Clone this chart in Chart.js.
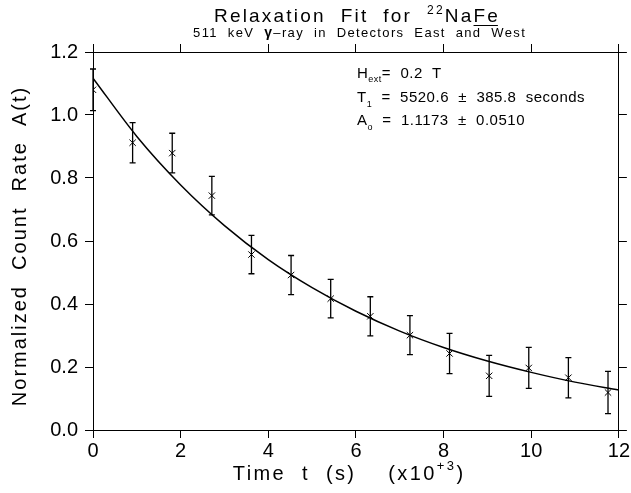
<!DOCTYPE html>
<html>
<head>
<meta charset="utf-8">
<script src="https://cdn.jsdelivr.net/npm/chart.js@4"></script>
<style>
  html, body { margin: 0; padding: 0; background: #fff; }
  #wrap { width: 631px; height: 493px; }
</style>
</head>
<body>
<div id="wrap"><canvas id="relaxChart"></canvas></div>
<script>
// measured points (time in seconds)
const times = [0, 904, 1808, 2712, 3616, 4520, 5424, 6328, 7232, 8136, 9040, 9944, 10848, 11752];
const counts = [1.080, 0.912, 0.879, 0.744, 0.557, 0.492, 0.417, 0.361, 0.301, 0.243, 0.172, 0.197, 0.166, 0.119];
const errors = [0.066, 0.064, 0.063, 0.061, 0.061, 0.062, 0.061, 0.062, 0.062, 0.064, 0.065, 0.065, 0.064, 0.067];

// fitted curve
const fitTimes = [0, 1000, 2000, 3000, 4000, 5000, 6000, 7000, 8000, 9000, 10000, 11000, 12000];
const fitValues = [1.117, 0.932, 0.778, 0.649, 0.541, 0.452, 0.377, 0.314, 0.262, 0.219, 0.183, 0.152, 0.127];

const xTicks = [0, 2, 4, 6, 8, 10, 12];
const yTicks = [0.0, 0.2, 0.4, 0.6, 0.8, 1.0, 1.2];

const FONT = "'Liberation Sans', Arial, sans-serif";

// draw a row of text pieces (sizes, sub/superscripts, underline, letter spacing)
function drawPieces(ctx, pieces, x, y, align, ls) {
  ls = ls || 0;
  let total = 0;
  pieces.forEach((p) => {
    ctx.font = (p.bold ? "bold " : "") + p.size + "px " + FONT;
    ctx.letterSpacing = "0px";
    p.w = ctx.measureText(p.text).width + ls * p.text.length;
    total += p.w;
  });
  total -= ls;
  let cx = align === "center" ? x - total / 2 : x;
  pieces.forEach((p) => {
    ctx.font = (p.bold ? "bold " : "") + p.size + "px " + FONT;
    ctx.letterSpacing = ls + "px";
    ctx.fillText(p.text, cx, y + (p.dy || 0));
    if (p.underline) {
      ctx.beginPath();
      ctx.moveTo(cx, y + 3.5);
      ctx.lineTo(cx + p.w - ls, y + 3.5);
      ctx.stroke();
    }
    cx += p.w;
  });
  ctx.letterSpacing = "0px";
}

const errorBars = {
  id: "errorBars",
  afterDatasetsDraw(chart) {
    const ctx = chart.ctx;
    const xs = chart.scales.x;
    const ys = chart.scales.y;
    ctx.save();
    ctx.strokeStyle = "#000";
    ctx.lineWidth = 1.3;
    times.forEach((t, i) => {
      const px = xs.getPixelForValue(t);
      const top = ys.getPixelForValue(counts[i] + errors[i]);
      const bot = ys.getPixelForValue(counts[i] - errors[i]);
      ctx.beginPath();
      ctx.moveTo(px, top);
      ctx.lineTo(px, bot);
      ctx.moveTo(px - 3, top);
      ctx.lineTo(px + 3, top);
      ctx.moveTo(px - 3, bot);
      ctx.lineTo(px + 3, bot);
      ctx.stroke();
    });
    ctx.restore();
  },
};

const labels = {
  id: "labels",
  afterDraw(chart) {
    const ctx = chart.ctx;
    const area = chart.chartArea;
    const mid = (area.left + area.right) / 2;
    ctx.save();
    ctx.fillStyle = "#000";
    ctx.strokeStyle = "#000";
    ctx.lineWidth = 1;
    ctx.textBaseline = "alphabetic";
    ctx.textAlign = "left";

    drawPieces(ctx, [
      { text: "Relaxation  Fit  for  ", size: 19 },
      { text: "22", size: 12, dy: -8 },
      { text: "Na", size: 19 },
      { text: "Fe", size: 19, underline: true },
    ], mid, 22, "center", 2.2);

    drawPieces(ctx, [
      { text: "511  keV  ", size: 13 },
      { text: "γ", size: 14, bold: true },
      { text: "\u2013ray  in  Detectors  East  and  West", size: 13 },
    ], mid + 3, 37, "center", 1.35);

    // fit parameters
    drawPieces(ctx, [
      { text: "H", size: 15 },
      { text: "ext", size: 9, dy: 4 },
      { text: "=  0.2  T", size: 15 },
    ], 357, 78, "left", 0.5);
    drawPieces(ctx, [
      { text: "T", size: 15 },
      { text: "1", size: 9, dy: 5 },
      { text: "  =  5520.6  \u00b1  385.8  seconds", size: 15 },
    ], 357, 102, "left", 0.5);
    drawPieces(ctx, [
      { text: "A", size: 15 },
      { text: "o", size: 9, dy: 5 },
      { text: "  =  1.1173  \u00b1  0.0510", size: 15 },
    ], 357, 125, "left", 0.5);

    // x axis title
    drawPieces(ctx, [
      { text: "Time  t  (s)    (x10", size: 20 },
      { text: "+3", size: 13, dy: -10 },
      { text: ")", size: 20 },
    ], mid - 8, 480, "center", 2.4);

    // y axis title
    ctx.translate(26, 247);
    ctx.rotate(-Math.PI / 2);
    drawPieces(ctx, [
      { text: "Normalized  Count  Rate  A(t)", size: 20 },
    ], 0, 0, "center", 2);
    ctx.restore();
  },
};

const tickStyle = {
  drawOnChartArea: false,
  drawTicks: true,
  tickLength: 8,
  tickWidth: 1,
  color: "#000",
};

new Chart(document.getElementById("relaxChart"), {
  type: "scatter",
  data: {
    datasets: [
      {
        type: "line",
        label: "Fit",
        data: fitTimes.map((t, i) => ({ x: t, y: fitValues[i] })),
        borderColor: "#000",
        borderWidth: 1.5,
        pointRadius: 0,
        cubicInterpolationMode: "monotone",
        fill: false,
      },
      {
        label: "Data",
        data: times.map((t, i) => ({ x: t, y: counts[i] })),
        pointStyle: "crossRot",
        pointRadius: 4.5,
        borderColor: "#000",
        borderWidth: 1,
        backgroundColor: "#000",
      },
    ],
  },
  options: {
    responsive: true,
    maintainAspectRatio: false,
    animation: false,
    layout: { padding: 0 },
    plugins: {
      legend: { display: false },
      tooltip: { enabled: false },
      title: { display: false },
    },
    scales: {
      x: {
        type: "linear",
        position: "bottom",
        min: 0,
        max: 12000,
        afterBuildTicks: (s) => { s.ticks = xTicks.map((v) => ({ value: v * 1000 })); },
        ticks: {
          callback: (v) => String(v / 1000),
          color: "#000",
          font: { family: FONT, size: 20 },
          padding: 1,
          maxRotation: 0,
        },
        grid: tickStyle,
        border: { color: "#000", width: 1 },
        afterFit: (s) => { s.height = 63; },
      },
      x2: {
        type: "linear",
        position: "top",
        min: 0,
        max: 12000,
        afterBuildTicks: (s) => { s.ticks = xTicks.map((v) => ({ value: v * 1000 })); },
        ticks: { callback: () => "", color: "#000" },
        grid: tickStyle,
        border: { color: "#000", width: 1 },
        afterFit: (s) => { s.height = 52; },
      },
      y: {
        type: "linear",
        position: "left",
        min: 0,
        max: 1.2,
        afterBuildTicks: (s) => { s.ticks = yTicks.map((v) => ({ value: v })); },
        ticks: {
          callback: (v) => v.toFixed(1),
          color: "#000",
          font: { family: FONT, size: 20 },
          padding: 7,
        },
        grid: tickStyle,
        border: { color: "#000", width: 1 },
        afterFit: (s) => { s.width = 93; },
      },
      y2: {
        type: "linear",
        position: "right",
        min: 0,
        max: 1.2,
        afterBuildTicks: (s) => { s.ticks = yTicks.map((v) => ({ value: v })); },
        ticks: { callback: () => "", color: "#000" },
        grid: tickStyle,
        border: { color: "#000", width: 1 },
        afterFit: (s) => { s.width = 9; },
      },
    },
  },
  plugins: [errorBars, labels],
});
</script>
</body>
</html>
